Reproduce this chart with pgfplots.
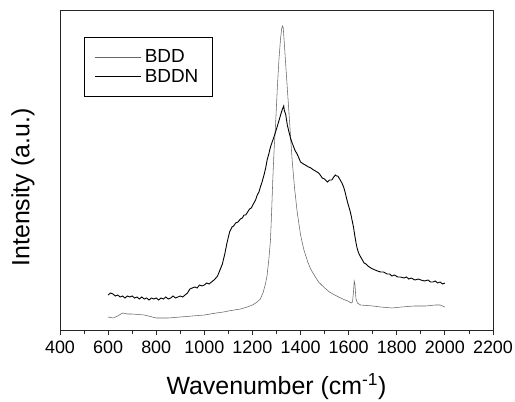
\documentclass[border=0pt]{standalone}
\usepackage{fontspec}
\setmainfont{Liberation Sans}
\usepackage{pgfplots}
\pgfplotsset{compat=1.18}
\begin{document}
\begin{tikzpicture}
\useasboundingbox (-60bp,-72bp) rectangle (455bp,330bp);
\begin{axis}[
  at={(0,0)}, anchor=south west,
  scale only axis, width=433bp, height=319bp,
  xmin=400, xmax=2200, ymin=0, ymax=319,
  xtick={400,600,...,2200},
  minor x tick num=1,
  ytick=\empty,
  xtick pos=bottom,
  tick align=outside,
  major tick length=5bp, minor tick length=3.5bp,
  axis line style={line width=1pt, black!85},
  every tick/.style={black!85, line width=0.8pt},
  /pgf/number format/assume math mode=true,
  /pgf/number format/1000 sep={},
  tick label style={font=\fontsize{18}{20}\selectfont},
  xticklabel style={yshift=-2bp},
  xlabel={Wavenumber (cm\textsuperscript{-1})},
  ylabel={Intensity (a.u.)},
  label style={font=\fontsize{25}{28}\selectfont},
  xlabel style={yshift=-13bp},
  ylabel style={yshift=17bp, xshift=-17bp},
  legend style={at={(0.0554,0.9185)}, anchor=north west, draw=black, line width=0.8pt,
    font=\fontsize{19}{21}\selectfont, inner xsep=10bp, inner ysep=10bp, row sep=0bp,
    nodes={inner ysep=2.5bp, inner xsep=3.5bp}},
  legend cell align=left,
  legend image code/.code={\draw[#1] (0bp,0bp) -- (46bp,0bp);},
]
\addplot[black!60, line width=0.55pt] coordinates {
(600,13)(620,12)(640,14)(660,17)(680,16)(700,16)(750,15)(800,12)(850,12)(900,13)
(950,14)(1000,15)(1050,17)(1080,18)(1100,19)(1150,21)(1178,23)(1200,25)(1220,28)
(1233,31)(1245,38)(1255,47)(1261,55)(1268,70)(1275,90)(1280,120)(1285,153)(1290,180)
(1296,205)(1303,240)(1310,270)(1317,292)(1322,302)(1325,304)(1328,302)(1333,285)
(1337,270)(1344,245)(1351,220)(1358,195)(1365,170)(1375,142)(1386,118)(1400,95)
(1414,80)(1430,68)(1442,61)(1454,56)(1475,48)(1496,43)(1520,38)(1550,34)(1575,31)
(1596,29)(1610,27)(1616,28)(1620,38)(1623,49)(1626,46)(1630,32)(1636,27)(1650,25)
(1700,24)(1733,23)(1780,22)(1820,23)(1871,24)(1920,24)(1960,25)(1980,25)(2000,23)
};
\addlegendentry{BDD}
\addplot[black, line width=0.9pt] coordinates {
(600,35)(610,37)(620,36)(630,34)(640,35)(650,33)(660,34)(670,32)(680,34)(690,33)
(700,34)(710,32)(720,33)(730,31)(740,33)(750,31)(760,32)(770,30)(780,32)(790,31)
(800,32)(810,30)(820,32)(830,31)(840,33)(850,31)(860,32)(870,34)(880,32)(890,33)
(900,34)(910,33)(920,35)(930,37)(940,41)(950,42)(960,43)(970,42)(980,45)(990,44)
(1000,45)(1010,47)(1020,46)(1030,48)(1040,50)(1048,52)(1055,54)(1065,60)(1075,66)
(1085,76)(1095,88)(1105,98)(1115,103)(1122,104)(1130,107)(1140,108)(1150,111)
(1158,112)(1165,115)(1172,115)(1180,118)(1188,121)(1195,122)(1206,127)(1213,130)
(1220,135)(1227,138)(1233,143)(1240,148)(1248,155)(1255,162)(1261,170)(1268,176)
(1275,183)(1282,188)(1288,192)(1296,198)(1305,205)(1311,210)(1317,215)(1322,219)
(1325,221)(1330,224)(1333,219)(1338,216)(1345,205)(1352,198)(1358,192)(1365,187)
(1370,184)(1378,179)(1386,176)(1393,172)(1400,168)(1406,167)(1412,166)(1420,165)
(1433,163)(1443,162)(1454,160)(1462,159)(1475,157)(1482,155)(1490,152)(1500,151)
(1512,148)(1520,150)(1530,150)(1538,153)(1545,155)(1550,154)(1555,154)(1560,152)
(1565,150)(1572,147)(1579,143)(1585,138)(1590,133)(1595,128)(1600,124)(1608,117)
(1614,110)(1620,103)(1625,95)(1630,88)(1635,82)(1640,78)(1645,75)(1650,73)
(1657,70)(1664,67)(1672,66)(1680,64)(1686,63)(1692,62)(1700,61)(1710,60)(1720,59)
(1733,58)(1745,58)(1760,56)(1770,56)(1780,54)(1790,55)(1804,53)(1815,53)(1830,52)
(1840,53)(1850,51)(1860,52)(1875,50)(1890,51)(1900,50)(1915,49)(1930,50)(1940,48)
(1950,48)(1960,49)(1970,47)(1980,48)(1990,46)(2000,47)
};
\addlegendentry{BDDN}
\end{axis}
\end{tikzpicture}
\end{document}
